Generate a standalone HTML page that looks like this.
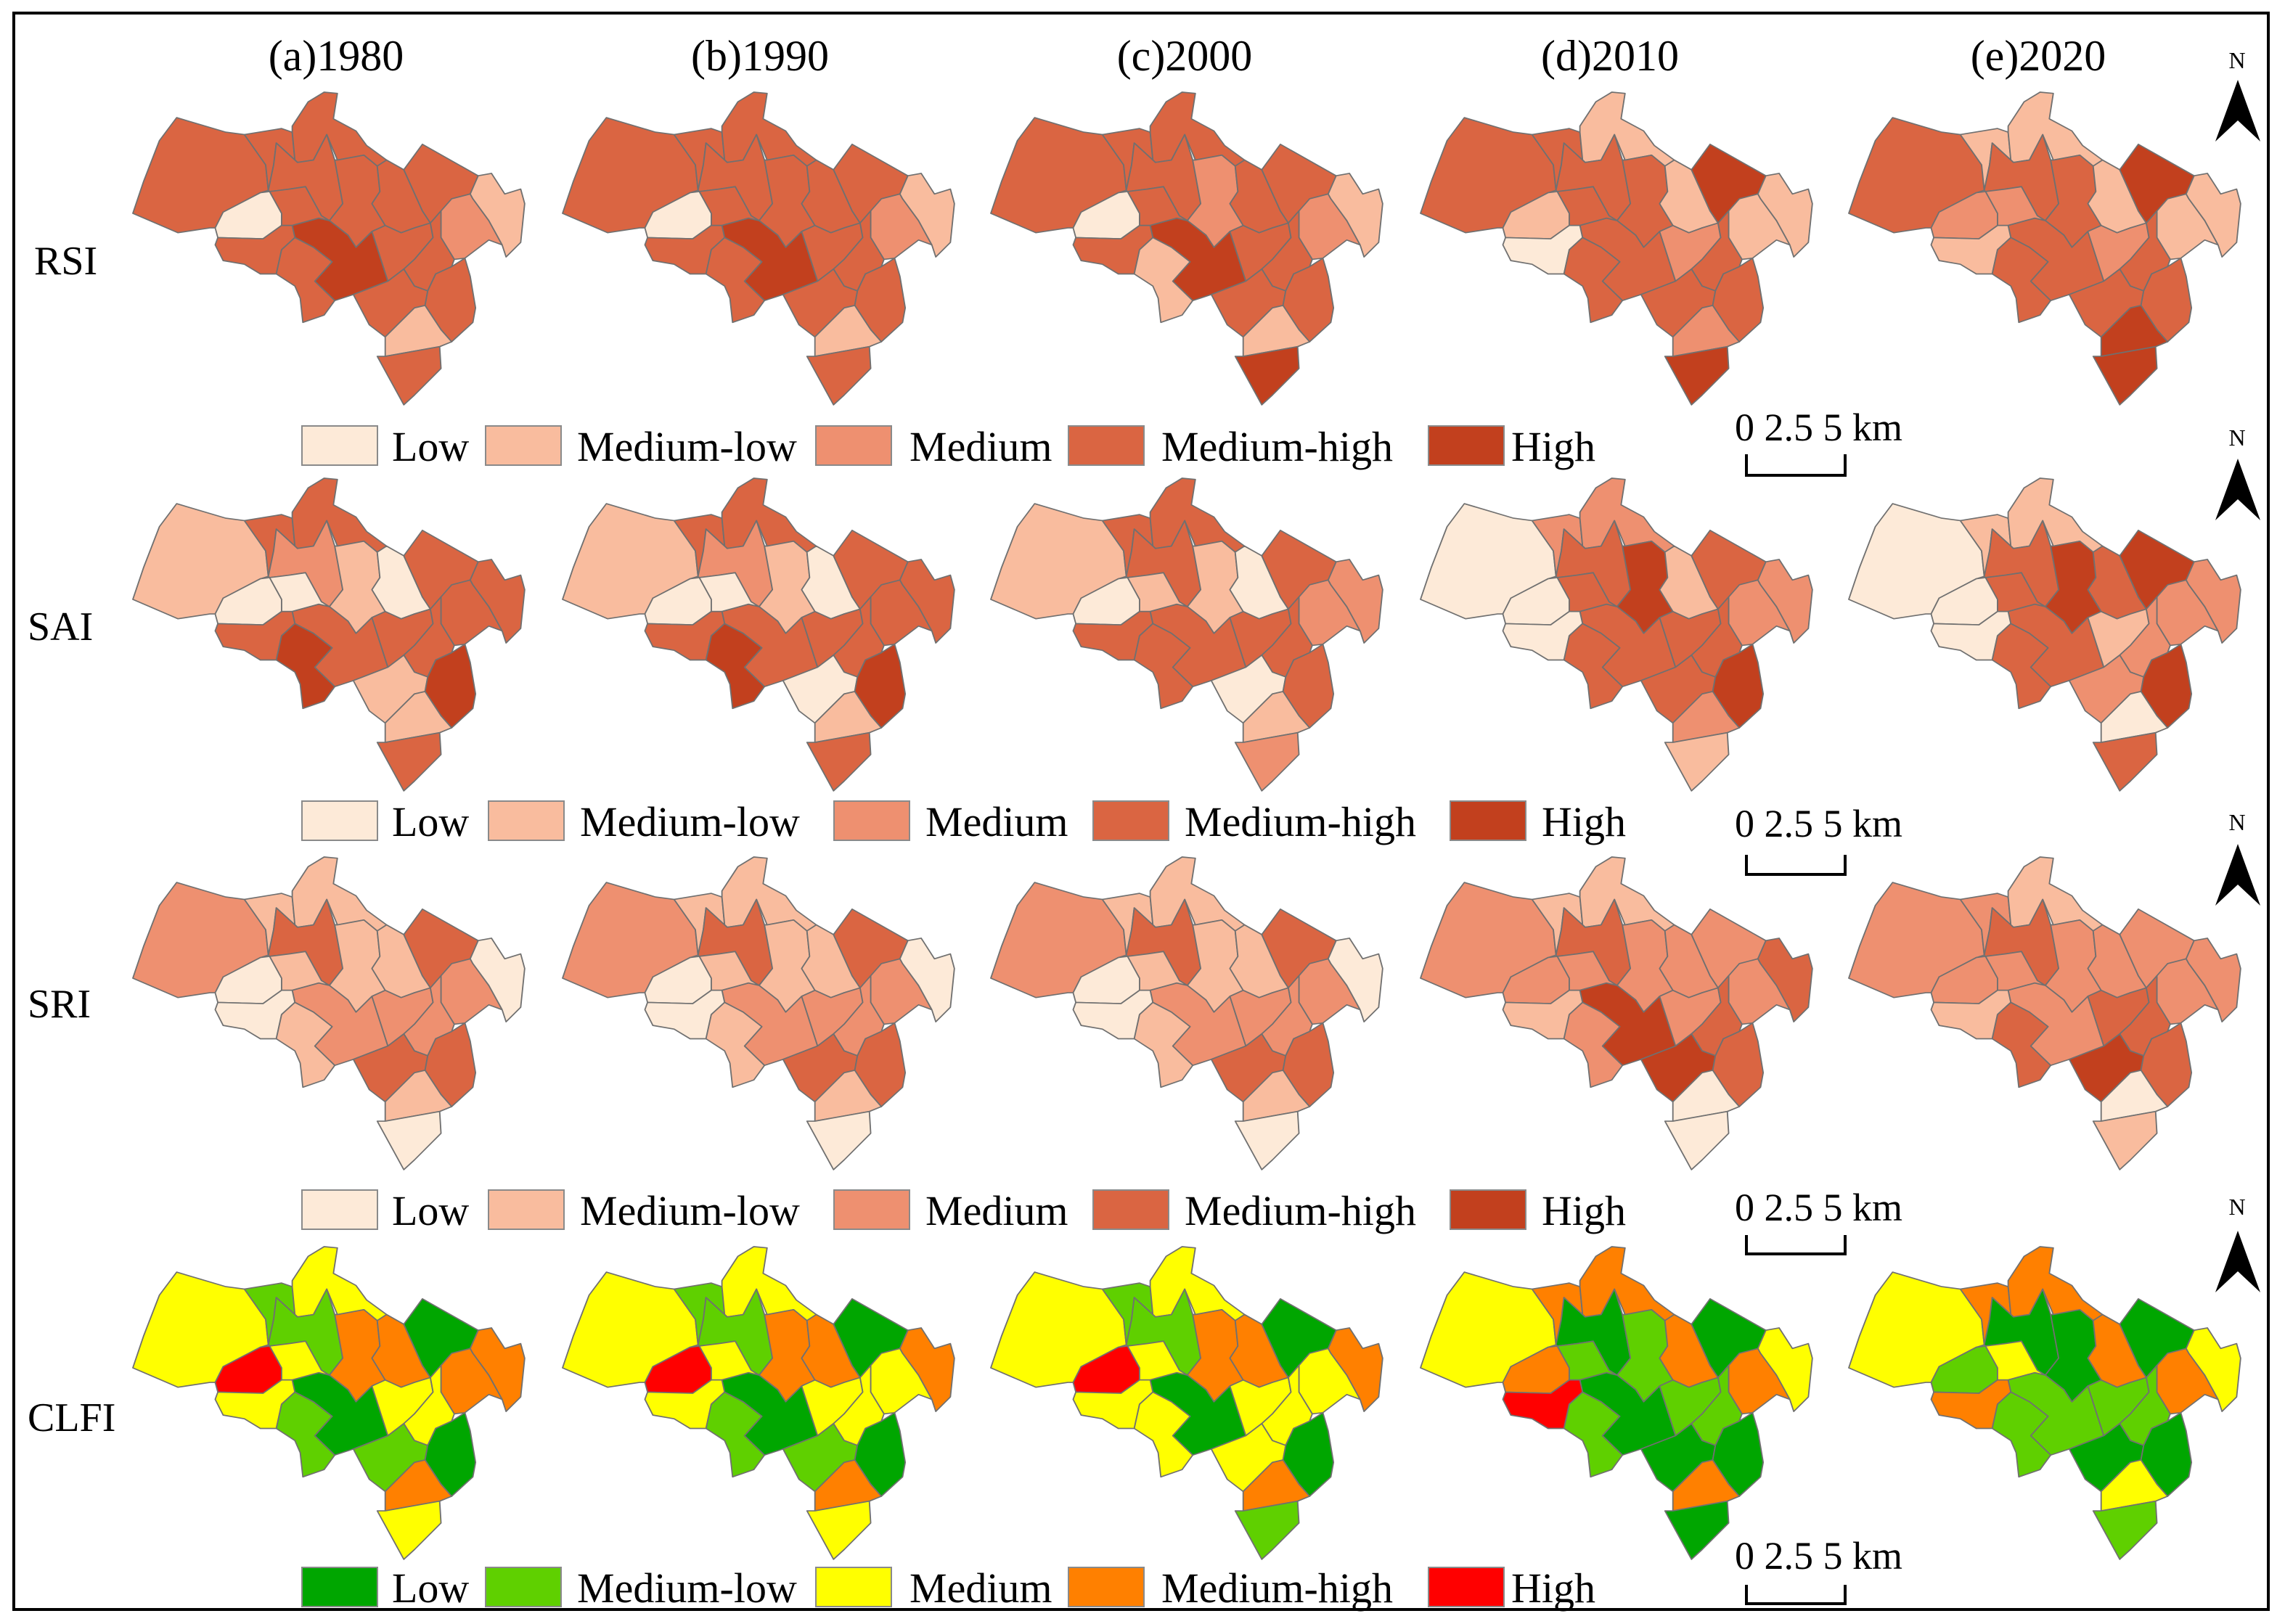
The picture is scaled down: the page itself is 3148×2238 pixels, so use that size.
<!DOCTYPE html>
<html><head><meta charset="utf-8"><style>
html,body{margin:0;padding:0;background:#fff;}
svg{display:block;}
text{font-family:"Liberation Serif",serif;fill:#000;}
</style></head><body>
<svg id="fig" width="3148" height="2238" viewBox="0 0 3148 2238" xmlns="http://www.w3.org/2000/svg">
<rect x="19" y="18" width="3106" height="2200" fill="none" stroke="#000" stroke-width="4"/>
<g id="maps"></g>
<g id="deco"></g>
</svg>
<script>
// ---- data: class index (0=Low .. 4=High) per district D1..D20, per year ----
const years = ["(a)1980","(b)1990","(c)2000","(d)2010","(e)2020"];
const indices = ["RSI","SAI","SRI","CLFI"];
const classNames = ["Low","Medium-low","Medium","Medium-high","High"];
const rsiClasses = [
 [3,0,3,3,3,3,3,3,3,2,1,4,3,3,3,3,3,3,1,3],
 [3,0,3,3,3,3,3,3,3,2,1,4,3,3,3,3,3,3,1,3],
 [3,0,3,3,3,3,2,3,3,2,1,4,3,1,3,3,3,3,1,4],
 [3,1,3,1,3,3,3,1,4,1,1,3,0,3,2,3,3,3,2,4],
 [3,2,1,1,3,2,3,1,4,1,1,3,1,3,2,3,3,3,4,4]
];
const saiClasses = [
 [1,0,3,3,2,0,1,0,3,3,3,3,3,4,3,3,1,4,1,3],
 [1,0,3,3,2,0,1,0,3,3,3,3,3,4,3,3,0,4,1,3],
 [1,0,3,3,3,1,1,0,3,2,2,3,3,3,3,3,0,3,1,2],
 [0,0,2,2,3,3,4,1,3,2,2,3,0,3,3,3,3,4,2,1],
 [0,0,1,1,3,3,4,3,4,2,2,3,0,3,1,2,2,4,0,3]
];
const sriClasses = [
 [2,0,1,1,3,1,1,1,3,2,0,2,0,1,2,2,3,3,1,0],
 [2,0,1,1,3,1,1,1,3,2,0,2,0,1,2,2,3,3,1,0],
 [2,0,1,1,3,1,1,1,3,2,0,2,0,1,2,2,3,3,1,0],
 [2,2,1,1,3,2,2,2,2,2,3,4,1,2,2,3,4,3,0,0],
 [2,2,2,1,3,2,2,2,2,2,2,2,1,3,3,3,4,3,0,1]
];
const clfiClasses = [
 [2,4,1,2,1,2,3,3,0,3,3,0,2,1,2,2,1,0,3,2],
 [2,4,1,2,1,2,3,3,0,2,3,0,2,1,2,2,1,0,3,2],
 [2,4,1,2,1,2,3,3,0,2,3,0,2,2,2,2,2,0,3,1],
 [2,3,3,3,0,1,1,3,0,3,2,0,4,1,1,1,0,0,3,0],
 [2,1,3,3,0,2,0,3,0,3,2,1,3,1,1,1,0,0,2,1]
];
const allClasses = [rsiClasses, saiClasses, sriClasses, clfiClasses];
const redPalette = ["#fdead8","#f9bc9e","#ee9070","#da6542","#c2401e"];
const clfiPalette = ["#00a600","#5fd000","#ffff00","#ff8000","#ff0000"];

// district geometry template (local units)
const districts = [
 "40,550 80,420 140,250 205,155 390,215 460,225 540,350 550,455 520,465 380,545 350,610 330,610 210,630",
 "380,545 520,465 555,460 600,550 600,600 530,655 360,650 350,610",
 "460,225 600,200 640,215 650,330 580,260 570,350 550,455 540,350",
 "640,215 640,190 700,90 760,50 810,55 795,160 880,210 920,270 995,330 960,355 910,310 810,330 770,225 720,330 660,340 650,330",
 "570,350 580,260 650,330 660,340 720,330 770,225 800,330 830,510 780,580 750,560 690,440 630,450 555,460 550,455",
 "555,460 630,450 690,440 750,560 780,580 740,570 640,600 600,600 600,550",
 "800,330 810,330 910,310 960,355 970,460 940,510 990,600 940,625 880,690 850,640 780,580 830,510",
 "960,355 995,330 1060,370 1130,540 1160,590 1100,610 1050,630 990,600 940,510 970,460",
 "1060,370 1130,265 1340,395 1310,470 1240,500 1200,540 1160,590 1130,540",
 "1240,490 1310,470 1320,490 1380,580 1430,680 1380,660 1290,735 1250,740 1200,650 1200,540",
 "1340,395 1390,385 1440,470 1500,450 1515,510 1500,670 1445,730 1430,680 1380,580 1320,490 1310,470",
 "640,600 740,570 780,580 850,640 880,690 940,625 1000,830 870,885 800,910 725,830 790,750 720,690 650,650",
 "360,650 530,655 600,600 640,600 650,650 600,700 580,800 520,800 460,760 380,745 350,680",
 "600,700 650,650 720,690 790,750 725,830 800,910 760,970 680,1000 670,900 650,850 580,800",
 "940,625 990,600 1050,630 1100,610 1160,590 1170,650 1100,740 1060,780 1000,830",
 "1160,590 1200,540 1200,650 1250,740 1240,770 1180,800 1150,870 1100,850 1060,780 1100,740 1170,650",
 "870,885 1000,830 1060,780 1100,850 1150,870 1140,930 1100,940 990,1060 930,1010",
 "1150,870 1180,800 1240,770 1290,735 1310,810 1330,940 1320,1000 1240,1080 1200,1030 1140,930",
 "990,1060 1100,940 1140,930 1200,1030 1240,1080 1195,1100 990,1140",
 "990,1140 1195,1100 1200,1190 1100,1300 1060,1340 1020,1260 960,1140"
];

const NS = "http://www.w3.org/2000/svg";
const colX = [183, 775, 1365, 1957, 2547];
const rowY = [127, 659, 1181, 1718];
const sx = 0.366, sy = 0.334;
const maps = document.getElementById("maps");
const deco = document.getElementById("deco");
function mk(tag, attrs, parent){const e=document.createElementNS(NS,tag);for(const k in attrs)e.setAttribute(k,attrs[k]);parent.appendChild(e);return e;}

for(let r=0;r<4;r++){
  const pal = r===3 ? clfiPalette : redPalette;
  for(let c=0;c<5;c++){
    const g = mk("g",{transform:`translate(${colX[c]},${rowY[r]}) scale(${sx},${sy}) translate(-40,-50)`},maps);
    
    
    const cls = allClasses[r][c];
    districts.forEach((pts,i)=>{
      const p = mk("polygon",{points:pts,fill:pal[cls[i]],stroke:"#707070","stroke-width":"5","stroke-linejoin":"round"},g);
      
      
    });
  }
}
// column titles
const titleX = [463, 1047, 1632, 2218, 2808];
years.forEach((t,i)=>{
  const e = mk("text",{x:titleX[i],y:97,"font-size":60,"text-anchor":"middle"},deco);
  e.textContent=t;
  
  
});
// row labels
const labelY = [378, 882, 1402, 1972];
indices.forEach((t,i)=>{
  const e = mk("text",{x:i===0?47:38,y:labelY[i],"font-size":56},deco);
  e.textContent=t;
  
  
});
// legends
const legY = [587, 1104, 1640, 2160];
const boxA = [416, 669, 1124, 1472, 1968], txtA = [540, 795, 1253, 1600, 2082];
const boxB = [416, 673, 1149, 1506, 1998], txtB = [540, 799, 1275, 1632, 2124];
for(let r=0;r<4;r++){
  const pal = r===3 ? clfiPalette : redPalette;
  const bx = (r===1||r===2)?boxB:boxA, tx=(r===1||r===2)?txtB:txtA;
  const lg = mk("g",{},deco);
  
  
  for(let k=0;k<5;k++){
    const b = mk("rect",{x:bx[k],y:legY[r],width:104,height:54,fill:pal[k],stroke:"#8a8a8a","stroke-width":2},lg);
    
    
    const t = mk("text",{x:tx[k],y:legY[r]+48,"font-size":58},lg);
    t.textContent = classNames[k];
    
    
  }
}
// scale bars
const sbText = [607, 1153, 1682, 2162];
const sbBar = [[626,655],[1178,1205],[1702,1728],[2184,2210]];
for(let r=0;r<4;r++){
  const g = mk("g",{},deco);
  
  
  const t = mk("text",{x:2390,y:sbText[r],"font-size":54},g);
  t.textContent = "0 2.5  5 km";
  
  
  const [y0,y1]=sbBar[r];
  mk("path",{d:`M2406 ${y0} V${y1} H2542 V${y0}`,fill:"none",stroke:"#000","stroke-width":4},g);
}
// north arrows
const naN = [94, 614, 1144, 1674];
const naTip = [110, 632, 1163, 1696];
for(let r=0;r<4;r++){
  const g = mk("g",{},deco);
  
  
  const t = mk("text",{x:3082,y:naN[r],"font-size":32,"text-anchor":"middle"},g);
  t.textContent="N";
  
  
  const ty = naTip[r];
  mk("polygon",{points:`3083,${ty} 3114,${ty+85} 3083,${ty+56} 3052,${ty+85}`,fill:"#000"},g);
}
</script>
</body></html>
